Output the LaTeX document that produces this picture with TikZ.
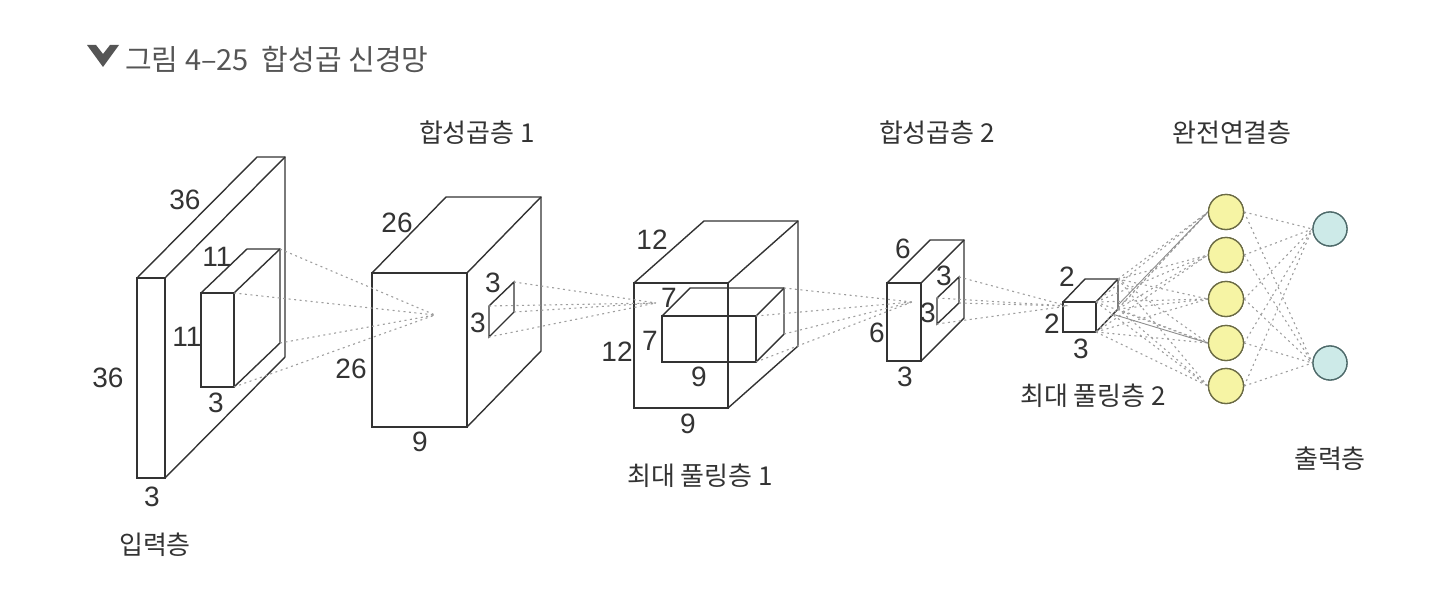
\documentclass[tikz,border=0pt]{standalone}
\usepackage{fontspec}
\setmainfont{Liberation Sans}
\newfontfamily\kr{Noto Sans CJK KR}
\usetikzlibrary{calc}
\definecolor{boxc}{HTML}{333333}
\definecolor{dotc}{HTML}{9E9E9E}
\definecolor{yel}{HTML}{F6F4A4}
\definecolor{yelb}{HTML}{6B6B45}
\definecolor{blu}{HTML}{CDEAE8}
\definecolor{blub}{HTML}{4E6A6A}
\definecolor{txt}{HTML}{333333}
\definecolor{ttl}{HTML}{555555}
\newcommand{\mycuboid}[7]{%
  \coordinate (#1-ftl) at (#2,#3);
  \coordinate (#1-ftr) at (#4,#3);
  \coordinate (#1-fbl) at (#2,#5);
  \coordinate (#1-fbr) at (#4,#5);
  \coordinate (#1-btl) at ($(#1-ftl)+(#6,#7)$);
  \coordinate (#1-btr) at ($(#1-ftr)+(#6,#7)$);
  \coordinate (#1-bbr) at ($(#1-fbr)+(#6,#7)$);
  \draw[boxline] (#1-ftl) rectangle (#1-fbr);
  \draw[boxline] (#1-ftl) -- (#1-btl) -- (#1-btr) -- (#1-bbr) -- (#1-fbr);
  \draw[boxline] (#1-ftr) -- (#1-btr);
}
\begin{document}
\begin{tikzpicture}[x=1pt,y=-1pt,
  boxline/.style={draw=boxc,line width=1.4pt,line join=miter},
  dotline/.style={draw=dotc,line width=1.1pt,dash pattern=on 2pt off 3.5pt},
  solidgray/.style={draw=dotc!90!black,line width=0.9pt},
  num/.style={text=txt,font=\fontsize{28}{30}\selectfont,inner sep=0pt},
  lab/.style={text=txt,font=\kr\fontsize{26}{30}\selectfont,inner sep=0pt},
  yneuron/.style={circle,draw=yelb,fill=yel,line width=1.3pt,minimum size=35pt,inner sep=0pt},
  bneuron/.style={circle,draw=blub,fill=blu,line width=1.3pt,minimum size=34pt,inner sep=0pt}]
\useasboundingbox (0,0) rectangle (1448,607);
% title
\fill[ttl] (87,45) -- (96,45) -- (103,54) -- (110,45) -- (119,45) -- (103,67) -- cycle;
\node[anchor=west,text=ttl,font=\kr\fontsize{29}{32}\selectfont,inner sep=0pt] (title) at (125,60) {그림 4–25\ \ 합성곱 신경망};
% boxes
\mycuboid{inp}{137}{278}{165}{478}{120}{-121}
\mycuboid{inpk}{201}{293}{234}{387}{46}{-44}
\mycuboid{cv1}{372}{273}{467}{427}{74}{-76}
\mycuboid{pl1}{634}{283}{728}{408}{70}{-62}
\mycuboid{pl1k}{662}{316}{756}{362}{28}{-28}
\mycuboid{cv2}{887}{283}{921}{361}{43}{-43}
\mycuboid{pl2}{1063}{302}{1096}{332}{22}{-23}
% patches
\coordinate (pa1) at (489,306); \coordinate (pa2) at (514,282);
\coordinate (pa3) at (514,312); \coordinate (pa4) at (489,337);
\draw[boxline] (pa1) -- (pa2) -- (pa3) -- (pa4) -- cycle;
\coordinate (pb1) at (937,298); \coordinate (pb2) at (959,277);
\coordinate (pb3) at (959,303); \coordinate (pb4) at (937,324);
\draw[boxline] (pb1) -- (pb2) -- (pb3) -- (pb4) -- cycle;
% convergence points
\coordinate (c1) at (435,315);
\coordinate (c2) at (656,303);
\coordinate (c3) at (912,302);
\coordinate (c4) at (1068,306);
\foreach \p in {inpk-btr,inpk-ftr,inpk-bbr,inpk-fbr} \draw[dotline] (\p) -- (c1);
\foreach \p in {pa1,pa2,pa3,pa4} \draw[dotline] (\p) -- (c2);
\foreach \p in {pl1k-btr,pl1k-ftr,pl1k-bbr,pl1k-fbr} \draw[dotline] (\p) -- (c3);
\foreach \p in {pb1,pb2,pb3,pb4} \draw[dotline] (\p) -- (c4);
% neurons (positions)
\node[yneuron] (y1) at (1226,212) {};
\node[yneuron] (y2) at (1226,255) {};
\node[yneuron] (y3) at (1226,299) {};
\node[yneuron] (y4) at (1226,343) {};
\node[yneuron] (y5) at (1226,386) {};
\node[bneuron] (o1) at (1330,229) {};
\node[bneuron] (o2) at (1330,363) {};
\foreach \y in {y1,y2,y3,y4,y5}{
  \foreach \p in {pl2-btr,pl2-ftr,pl2-bbr,pl2-fbr} \draw[dotline] (\p) -- (\y.west);
  \foreach \o in {o1,o2} \draw[dotline] (\y.east) -- (\o.west);
}
\coordinate (s1) at (1118,305);
\coordinate (s2) at (1112,314);
\draw[solidgray] (s1) -- (y1.west);
\draw[solidgray] (s2) -- (y4.west);
% redraw neurons on top of connectors
\foreach \yy in {212,255,299,343,386} \node[yneuron] at (1226,\yy) {};
\foreach \yy in {229,363} \node[bneuron] at (1330,\yy) {};
% numbers
\node[num] (n1) at (185,200) {36};
\node[num] (n2) at (108,378) {36};
\node[num] (n3) at (152,497) {3};
\node[num] (n4) at (217,257) {11};
\node[num] (n5) at (187,337) {11};
\node[num] (n6) at (216,403) {3};
\node[num] (n7) at (397,223) {26};
\node[num] (n8) at (351,369) {26};
\node[num] (n9) at (420,442) {9};
\node[num] (n10) at (493,283) {3};
\node[num] (n11) at (478,323) {3};
\node[num] (n12) at (652,240) {12};
\node[num] (n13) at (617,352) {12};
\node[num] (n14) at (688,424) {9};
\node[num] (n15) at (669,298) {7};
\node[num] (n16) at (650,341) {7};
\node[num] (n17) at (699,377) {9};
\node[num] (n18) at (903,249) {6};
\node[num] (n19) at (877,333) {6};
\node[num] (n20) at (905,377) {3};
\node[num] (n21) at (944,276) {3};
\node[num] (n22) at (928,313) {3};
\node[num] (n23) at (1067,277) {2};
\node[num] (n24) at (1052,324) {2};
\node[num] (n25) at (1081,349) {3};
% labels
\node[lab] (l1) at (477,133) {합성곱층 1};
\node[lab] (l2) at (937,133) {합성곱층 2};
\node[lab] (l3) at (1232,133) {완전연결층};
\node[lab] (l4) at (700,476) {최대 풀링층 1};
\node[lab] (l5) at (1093,396) {최대 풀링층 2};
\node[lab] (l6) at (1330,459) {출력층};
\node[lab] (l7) at (155,545) {입력층};
\end{tikzpicture}
\end{document}
